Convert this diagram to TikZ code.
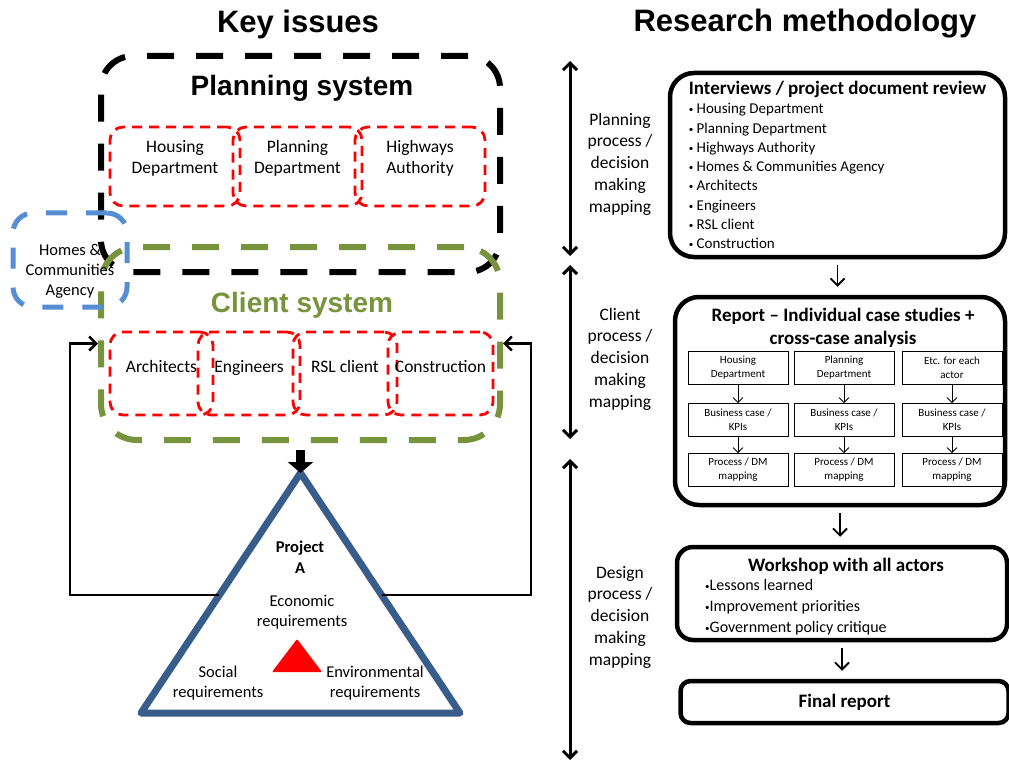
\documentclass[tikz,border=0pt]{standalone}
\usepackage{fontspec}
\setmainfont{Carlito}
\newfontfamily\arialfont{Liberation Sans}
\usetikzlibrary{arrows.meta,positioning,calc}
\definecolor{clientgreen}{RGB}{119,147,60}
\definecolor{hcablue}{RGB}{85,142,213}
\definecolor{triblue}{RGB}{56,93,138}
\newcommand{\bul}{{\fontsize{9}{9}\selectfont\raisebox{1pt}{•}}}

\begin{document}
\begin{tikzpicture}[x=1pt, y=-1pt,
  >={Straight Barb[length=7pt,width=14pt]},
  sysbox/.style={draw, line width=6pt, dash pattern=on 27pt off 22pt,
                 rounded corners=32pt, inner sep=0pt},
  actor/.style={draw=red, line width=2.8pt, dash pattern=on 10pt off 7pt,
                rounded corners=13pt, align=center, inner sep=0pt,
                font=\fontsize{17.5}{21}\selectfont},
  ttl/.style={font=\arialfont\bfseries\fontsize{31}{36}\selectfont},
  systtl/.style={font=\arialfont\bfseries\fontsize{28}{32}\selectfont},
  txt/.style={align=center, font=\fontsize{17}{21}\selectfont},
  side/.style={align=center, font=\fontsize{17.5}{21.75}\selectfont},
  mbox/.style={draw, line width=4.5pt, rounded corners=24pt, inner sep=0pt},
  hd/.style={align=center, font=\bfseries\fontsize{19}{23}\selectfont},
  sbox/.style={draw, line width=0.8pt, align=center, inner sep=0pt,
               minimum width=100pt, minimum height=33pt,
               font=\fontsize{11}{14}\selectfont},
  flow/.style={->, line width=1.8pt, shorten <=6pt, shorten >=8pt},
  sflow/.style={->, line width=0.8pt, >={Straight Barb[length=5pt,width=10pt]}},
  span/.style={<->, line width=3pt},
  fb/.style={->, line width=2.5pt}]
\useasboundingbox (0,0) rectangle (1009,762);

% key issues
\node[ttl] (kt) at (298,24) {Key issues};
\node[sysbox] (plan) at (300.5,164) [minimum width=399pt, minimum height=216pt] {};
\node[systtl] (plant) at (302,88) {Planning system};
\node[actor, text depth=20pt, minimum width=130pt, minimum height=79pt] (hd) at (175,166.5) {Housing\\Department};
\node[actor, text depth=20pt, minimum width=129pt, minimum height=79pt] (pd) at (297.5,166.5) {Planning\\Department};
\node[actor, text depth=20pt, minimum width=130pt, minimum height=79pt] (ha) at (420,166.5) {Highways\\Authority};

\node[sysbox, draw=clientgreen, rounded corners=36pt] (cli) at (300.5,343.5) [minimum width=399pt, minimum height=193pt] {};
\node[systtl, text=clientgreen] (clit) at (302,305) {Client system};
\node[actor, text depth=14pt, minimum width=103pt, minimum height=83pt] (arc) at (161.5,373.5) {Architects};
\node[actor, text depth=14pt, minimum width=102pt, minimum height=83pt] (eng) at (249,373.5) {Engineers};
\node[actor, text depth=14pt, minimum width=104pt, minimum height=83pt] (rsl) at (345,373.5) {RSL client};
\node[actor, text depth=14pt, minimum width=105pt, minimum height=83pt] (con) at (440.5,373.5) {Construction};

\node[draw=hcablue, line width=5pt, dash pattern=on 21pt off 19pt, rounded corners=20pt,
      minimum width=114pt, minimum height=94pt, inner sep=0pt, align=center, text height=74pt,
      font=\fontsize{16.5}{20}\selectfont] (hca) at (70,260) {Homes \&\\Communities\\Agency};

% project triangle
\coordinate (apex) at (300.5,473);
\coordinate (tl) at (141,713);
\coordinate (tr) at (460,713);
\draw[triblue, line width=7pt, line join=round] (apex) -- (tl) -- (tr) -- cycle;
\fill[red, rounded corners=1pt] (297,639) -- (272,672) -- (322,672) -- cycle;
\node[txt, font=\bfseries\fontsize{16.5}{21}\selectfont] (proj) at (300,557) {Project\\A};
\node[txt, font=\fontsize{16.5}{20.5}\selectfont] (eco) at (302,612) {Economic\\requirements};
\node[txt, font=\fontsize{16.5}{20.5}\selectfont] (soc) at (218,683) {Social\\requirements};
\node[txt, font=\fontsize{16.5}{20.5}\selectfont] (env) at (375,683) {Environmental\\requirements};

\draw[line width=9pt, -{Triangle[length=11pt,width=25pt]}] ([yshift=-7pt]cli.south) -- (apex);
\coordinate (lfb) at ($(apex)!0.508!(tl)$);
\coordinate (rfb) at ($(apex)!0.508!(tr)$);
\draw[fb] (lfb) -| ([xshift=-28pt]cli.west) -- (cli.west);
\draw[fb] (rfb) -| ([xshift=28pt]cli.east) -- (cli.east);

% research methodology
\node[ttl] (rt) at (805,24) {Research methodology};
\coordinate (s1t) at (570,61); \coordinate (s1b) at (570,256);
\coordinate (s2t) at (570,265); \coordinate (s2b) at (570,439);
\coordinate (s3t) at (570,459); \coordinate (s3b) at (570,760);
\draw[span] (s1t) -- (s1b);
\draw[span] (s2t) -- (s2b);
\draw[span] (s3t) -- (s3b);
\node[side] (lpl) at (620,164) {Planning\\process /\\decision\\making\\mapping};
\node[side] (lcl) at (620,359) {Client\\process /\\decision\\making\\mapping};
\node[side] (lds) at (620,617) {Design\\process /\\decision\\making\\mapping};

\node[mbox, minimum width=335pt, minimum height=184pt, align=left,
      font=\fontsize{15}{19.3}\selectfont] (intv) at (837.5,165)
  {{\bfseries\fontsize{19}{19.3}\selectfont Interviews / project document review}\\
   \bul\ Housing Department\\ \bul\ Planning Department\\ \bul\ Highways Authority\\
   \bul\ Homes \& Communities Agency\\ \bul\ Architects\\ \bul\ Engineers\\ \bul\ RSL client\\
   \bul\ Construction};

\node[mbox, minimum width=330pt, minimum height=208pt] (rep) at (840,401) {};
\node[hd] (rept) at (843,328) {Report – Individual case studies +\\cross-case analysis};
\node[sbox] (c1a) at (738,367.5) {Housing\\Department};
\node[sbox] (c2a) at (844,367.5) {Planning\\Department};
\node[sbox] (c3a) at (952,367.5) {Etc. for each\\actor};
\node[sbox] (c1b) at (738,420) {Business case /\\KPIs};
\node[sbox] (c2b) at (844,420) {Business case /\\KPIs};
\node[sbox] (c3b) at (952,420) {Business case /\\KPIs};
\node[sbox] (c1c) at (738,470) {Process / DM\\mapping};
\node[sbox] (c2c) at (844,470) {Process / DM\\mapping};
\node[sbox] (c3c) at (952,470) {Process / DM\\mapping};
\draw[sflow] (c1a) -- (c1b); \draw[sflow] (c2a) -- (c2b); \draw[sflow] (c3a) -- (c3b);
\draw[sflow] (c1b) -- (c1c); \draw[sflow] (c2b) -- (c2c); \draw[sflow] (c3b) -- (c3c);

\node[mbox, rounded corners=16pt, minimum width=330pt, minimum height=93pt] (wks) at (842,593.5) {};
\node[hd] (wkst) at (846,566) {Workshop with all actors};
\node[align=left, anchor=north west, inner sep=0pt, font=\fontsize{16}{21}\selectfont] (wksl) at (705,579)
  {\bul Lessons learned\\\bul Improvement priorities\\\bul Government policy critique};

\node[mbox, rounded corners=10pt, minimum width=328pt, minimum height=42pt,
      font=\bfseries\fontsize{19}{23}\selectfont] (fin) at (844.5,702) {Final report};

\draw[flow] (intv.south) -- (intv.south |- rep.north);
\draw[flow] (rep.south) -- (rep.south |- wks.north);
\draw[flow] (wks.south) -- (wks.south |- fin.north);
\end{tikzpicture}
\end{document}
